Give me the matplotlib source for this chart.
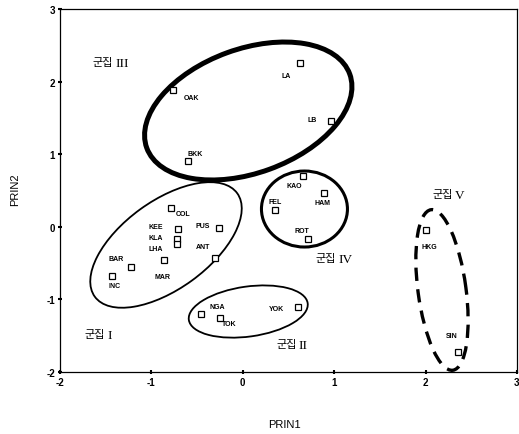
import matplotlib
matplotlib.use("Agg")
import matplotlib.pyplot as plt
from matplotlib.patches import Ellipse
from matplotlib.transforms import ScaledTranslation

# ---- data ----
cities = ["LA", "OAK", "LB", "BKK", "KAO", "HAM", "FEL", "ROT", "PUS", "ANT",
          "COL", "KEE", "KLA", "LHA", "MAR", "BAR", "INC", "NGA", "TOK", "YOK",
          "HKG", "SIN"]
prin1 = [0.63, -0.76, 0.97, -0.60, 0.66, 0.89, 0.35, 0.71, -0.26, -0.30,
         -0.79, -0.71, -0.72, -0.72, -0.86, -1.22, -1.43, -0.46, -0.25, 0.60,
         2.01, 2.35]
prin2 = [2.25, 1.89, 1.46, 0.90, 0.70, 0.47, 0.23, -0.17, -0.02, -0.43,
         0.26, -0.03, -0.17, -0.24, -0.46, -0.55, -0.68, -1.20, -1.26, -1.10,
         -0.04, -1.72]
# label offsets in points (dx, dy)
label_dx = [-10, 13, -14, 5, -6, -1, 0, -4, -12, -9,
            9, -16, -15, -15, -1, -11, 2, 12, 7, -15,
            2, -4]
label_dy = [-9, -6, 1, 6, -7, -7, 6, 6, 2, 8,
            -4, 2, 1, -3, -12, 6, -7, 5, -4, -1,
            -12, 12]

cluster_word = "군집"
cluster_num = ["I", "II", "III", "IV", "V"]
cluster_lx = [-1.508, 0.588, -1.42, 1.025, 2.30]
cluster_ly = [-1.477, -1.614, 2.27, -0.43, 0.452]

# ellipses: center (data), width/height (inches), angle (deg, screen)
ell_cx = [-0.84, 0.06, 0.06, 0.675, 2.18]
ell_cy = [-0.25, -1.167, 1.595, 0.245, -0.87]
ell_w = [1.76, 1.20, 2.16, 0.86, 1.62]
ell_h = [0.88, 0.50, 1.24, 0.76, 0.48]
ell_ang = [36, 8, 20, 0, 97.7]
ell_lw = [1.3, 1.3, 3.6, 2.2, 2.4]
ell_ls = ["-", "-", "-", "-", (0, (4, 2.5))]

xticks = [-2, -1, 0, 1, 2, 3]
yticks = [-2, -1, 0, 1, 2, 3]

fig = plt.figure(figsize=(5.19, 4.35), dpi=100)
ax = fig.add_axes([0.1156, 0.1425, 0.8804, 0.8345])
ax.set_xlim(-2, 3)
ax.set_ylim(-2, 3)

ax.plot(prin1, prin2, linestyle="none", marker="s", markersize=4,
        markerfacecolor="white", markeredgecolor="black", markeredgewidth=0.9)

for name, x, y, dx, dy in zip(cities, prin1, prin2, label_dx, label_dy):
    ax.annotate(name, (x, y), xytext=(dx, dy), textcoords="offset points",
                ha="center", va="center", fontsize=5, fontweight="bold",
                family="Liberation Sans")

for cx, cy, w, h, a, lw, ls in zip(ell_cx, ell_cy, ell_w, ell_h, ell_ang, ell_lw, ell_ls):
    tr = fig.dpi_scale_trans + ScaledTranslation(cx, cy, ax.transData)
    e = Ellipse((0, 0), w, h, angle=a, transform=tr, fill=False,
                edgecolor="black", linewidth=lw, linestyle=ls)
    ax.add_patch(e)

for num, x, y in zip(cluster_num, cluster_lx, cluster_ly):
    ax.annotate(cluster_word, (x, y), xytext=(0, 0), textcoords="offset points",
                ha="right", va="center", fontsize=8,
                family=["Noto Sans CJK KR", "DejaVu Sans"])
    ax.annotate(num, (x, y), xytext=(1.5, -0.5), textcoords="offset points",
                ha="left", va="center", fontsize=9.5, family="Liberation Serif")

ax.set_xticks(xticks)
ax.set_yticks(yticks)
ax.set_xticklabels([str(t) for t in xticks], fontsize=7, fontweight="bold",
                   family="Liberation Sans")
ax.set_yticklabels([str(t) for t in yticks], fontsize=7, fontweight="bold",
                   family="Liberation Sans")
ax.tick_params(direction="inout", length=3, width=1.5, pad=2)
for s in ax.spines.values():
    s.set_linewidth(0.9)

fig.text(0.549, 1 - 425 / 435, "PRIN1", ha="center", va="center",
         fontsize=8, family="Liberation Sans")
fig.text(15 / 519, 1 - 190 / 435, "PRIN2", ha="center", va="center",
         fontsize=8, family="Liberation Sans", rotation=90)

fig.savefig("out.png", dpi=100)
